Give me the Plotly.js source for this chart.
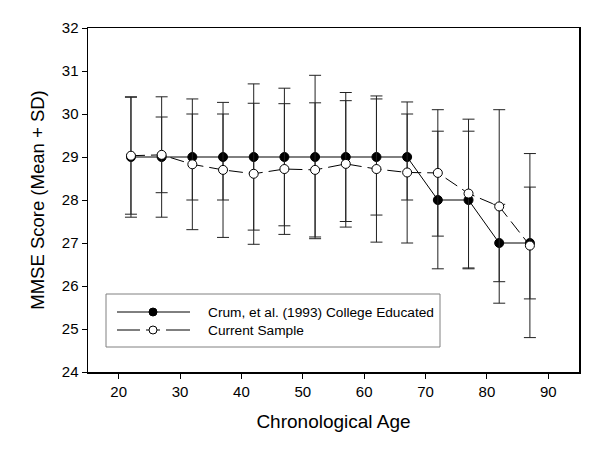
<!DOCTYPE html>
<html>
<head>
<meta charset="utf-8">
<script src="https://cdn.plot.ly/plotly-3.0.1.min.js"></script>
<style>html,body{margin:0;padding:0;background:#fff;}#chart{width:601px;height:452px;}</style>
</head>
<body>
<div id="chart"></div>
<script>
const ages = [22, 27, 32, 37, 42, 47, 52, 57, 62, 67, 72, 77, 82, 87];
const crumMean = [29, 29, 29, 29, 29, 29, 29, 29, 29, 29, 28, 28, 27, 27];
const crumSD = [1.4, 1.4, 1.0, 1.0, 1.7, 1.6, 1.9, 1.5, 1.35, 1.0, 1.6, 1.6, 0.9, 1.3];
const sampleMean = [29.03, 29.05, 28.83, 28.7, 28.61, 28.72, 28.7, 28.84, 28.72, 28.64, 28.63, 28.15, 27.85, 26.94];
const sampleSD = [1.36, 0.88, 1.52, 1.57, 1.64, 1.52, 1.56, 1.47, 1.70, 1.64, 1.47, 1.73, 2.25, 2.14];
const seriesNames = ["Crum, et al. (1993) College Educated", "Current Sample"];
const xTicks = [20, 30, 40, 50, 60, 70, 80, 90];
const yTicks = [24, 25, 26, 27, 28, 29, 30, 31, 32];

const font = "Arial, 'Liberation Sans', sans-serif";

const traces = [
  {
    x: ages, y: crumMean, name: seriesNames[0], type: "scatter", mode: "lines+markers",
    line: {color: "#000", width: 1},
    marker: {color: "#000", size: 9, line: {color: "#000", width: 1}},
    error_y: {type: "data", array: crumSD, arrayminus: crumSD, symmetric: false, visible: true, color: "#222", thickness: 1, width: 6},
    showlegend: false
  },
  {
    x: ages, y: sampleMean, name: seriesNames[1], type: "scatter", mode: "lines+markers",
    line: {color: "#000", width: 1, dash: "14px,6px"},
    marker: {color: "#fff", size: 9, line: {color: "#000", width: 1}},
    error_y: {type: "data", array: sampleSD, arrayminus: sampleSD, symmetric: false, visible: true, color: "#222", thickness: 1, width: 6},
    showlegend: false
  }
];

// legend drawn with paper-coordinate shapes & annotations
const W = 601 - 88 - 22, H = 452 - 28 - 80;
const px = v => (v - 88) / W;
const py = v => 1 - (v - 28) / H;
const shapes = [
  {type: "rect", xref: "paper", yref: "paper", x0: px(106), x1: px(440), y0: py(294), y1: py(347), line: {color: "#808080", width: 1}, fillcolor: "#fff", layer: "above"},
  {type: "line", xref: "paper", yref: "paper", x0: px(117), x1: px(190), y0: py(312), y1: py(312), line: {color: "#000", width: 1}, layer: "above"},
  {type: "circle", xref: "paper", yref: "paper", x0: px(149), x1: px(157), y0: py(308), y1: py(316), fillcolor: "#000", line: {color: "#000", width: 1}, layer: "above"},
  {type: "line", xref: "paper", yref: "paper", x0: px(117), x1: px(140), y0: py(330), y1: py(330), line: {color: "#000", width: 1}, layer: "above"},
  {type: "line", xref: "paper", yref: "paper", x0: px(146), x1: px(160), y0: py(330), y1: py(330), line: {color: "#000", width: 1}, layer: "above"},
  {type: "circle", xref: "paper", yref: "paper", x0: px(149), x1: px(157), y0: py(326), y1: py(334), fillcolor: "#fff", line: {color: "#000", width: 1}, layer: "above"},
  {type: "line", xref: "paper", yref: "paper", x0: px(166), x1: px(190), y0: py(330), y1: py(330), line: {color: "#000", width: 1}, layer: "above"}
];
const annotations = [
  {xref: "paper", yref: "paper", x: px(206), y: py(312), text: seriesNames[0], showarrow: false, xanchor: "left", yanchor: "middle", font: {family: font, size: 13.7, color: "#000"}},
  {xref: "paper", yref: "paper", x: px(206), y: py(330), text: seriesNames[1], showarrow: false, xanchor: "left", yanchor: "middle", font: {family: font, size: 13.7, color: "#000"}}
];

const layout = {
  width: 601, height: 452,
  margin: {l: 88, r: 22, t: 28, b: 80},
  paper_bgcolor: "#fff", plot_bgcolor: "#fff",
  font: {family: font, color: "#000"},
  showlegend: false,
  xaxis: {
    range: [15, 95], tickvals: xTicks, ticktext: xTicks.map(String),
    ticks: "outside", ticklen: 5, tickcolor: "#000", showgrid: false, zeroline: false,
    showline: true, linecolor: "#000", linewidth: 1.5, mirror: true,
    tickfont: {family: font, size: 15},
    title: {text: "Chronological Age", font: {family: font, size: 19}, standoff: 16}
  },
  yaxis: {
    range: [24, 32], tickvals: yTicks, ticktext: yTicks.map(String),
    ticks: "outside", ticklen: 5, tickcolor: "#000", showgrid: false, zeroline: false,
    showline: true, linecolor: "#000", linewidth: 1.5, mirror: true,
    tickfont: {family: font, size: 15},
    title: {text: "MMSE Score (Mean + SD)", font: {family: font, size: 18.5}, standoff: 12}
  },
  shapes: shapes,
  annotations: annotations
};

Plotly.newPlot("chart", traces, layout, {displayModeBar: false, staticPlot: true});
</script>
</body>
</html>
